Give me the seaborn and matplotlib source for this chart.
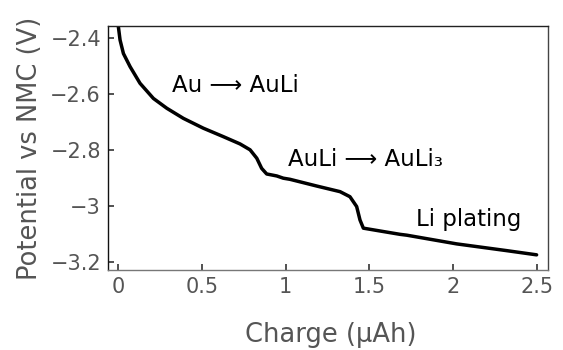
import matplotlib
matplotlib.use("Agg")
import matplotlib.pyplot as plt
import seaborn as sns
import pandas as pd

charge = [-0.002, 0.002, 0.012, 0.032, 0.072, 0.131, 0.211, 0.291, 0.390, 0.509, 0.628,
          0.728, 0.788, 0.828, 0.857, 0.887, 0.947, 0.986, 1.026, 1.186, 1.325, 1.384,
          1.424, 1.444, 1.464, 1.583, 1.683, 1.723, 2.021, 2.319, 2.498]
potential = [-2.30, -2.361, -2.408, -2.456, -2.503, -2.562, -2.616, -2.651, -2.687,
             -2.722, -2.752, -2.778, -2.799, -2.829, -2.865, -2.885, -2.892, -2.900,
             -2.904, -2.928, -2.948, -2.966, -3.001, -3.049, -3.078, -3.090, -3.100,
             -3.103, -3.134, -3.158, -3.173]
xticks = [0, 0.5, 1, 1.5, 2, 2.5]
xticklabels = ["0", "0.5", "1", "1.5", "2", "2.5"]
yticks = [-2.4, -2.6, -2.8, -3.0, -3.2]
yticklabels = ["\u22122.4", "\u22122.6", "\u22122.8", "\u22123", "\u22123.2"]
annotations = [("Au \u27f6 AuLi", 0.320, -2.592),
               ("AuLi \u27f6 AuLi\u2083", 1.014, -2.857),
               ("Li plating", 1.778, -3.070)]

sns.set_theme(style="white")
plt.rcParams['font.family'] = ['DejaVu Sans']

df = pd.DataFrame({"charge": charge, "potential": potential})
fig = plt.figure(figsize=(5.63, 3.5), dpi=100)
ax = fig.add_axes([108/563, 80/350, 440/563, 244/350])
sns.lineplot(data=df, x="charge", y="potential", sort=False, estimator=None,
             color="black", linewidth=2.5, ax=ax)
ax.set_xlim(-0.06, 2.566)
ax.set_ylim(-3.227, -2.358)
ax.set_xticks(xticks)
ax.set_xticklabels(xticklabels)
ax.set_yticks(yticks)
ax.set_yticklabels(yticklabels)
gray = "#555555"
ax.tick_params(axis="both", direction="in", length=4, width=1.2, colors="#333333",
               labelcolor=gray, labelsize=15, pad=5)
ax.tick_params(top=False, right=False, bottom=True, left=True)
ax.set_xlabel("Charge (\u03bcAh)", fontsize=18.5, color=gray)
ax.set_ylabel("Potential vs NMC (V)", fontsize=18.5, color=gray)
ax.xaxis.set_label_coords(0.507, -0.266)
ax.xaxis.label.set_va("center")
ax.yaxis.set_label_coords(-0.177, 0.5)
ax.yaxis.label.set_va("center")
for side, col in [("left", "#111111"), ("bottom", "#777777"), ("top", "#222222"), ("right", "#444444")]:
    ax.spines[side].set_color(col)
    ax.spines[side].set_linewidth(1.0)
for txt, x, y in annotations:
    ax.text(x, y, txt, fontsize=16.5, color="black", ha="left", va="baseline")
fig.savefig("out.png", dpi=100)
